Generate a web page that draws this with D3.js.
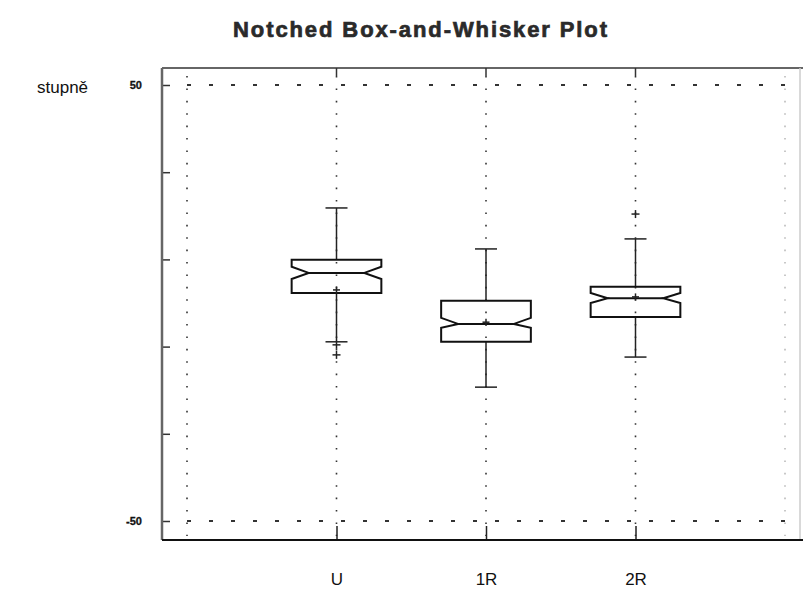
<!DOCTYPE html>
<html>
<head>
<meta charset="utf-8">
<script src="https://cdn.jsdelivr.net/npm/d3@7"></script>
<style>
  html, body { margin: 0; padding: 0; background: #fff; }
  svg { display: block; }
</style>
</head>
<body>
<svg id="chart" width="803" height="594"></svg>
<script>
// Per-group summary statistics (degrees)
const categories   = ["U", "1R", "2R"];
const upperWhisker = [21.8, 12.4, 14.7];
const q3           = [9.9, 0.5, 3.7];
const notchHigh    = [8.3, -3.4, 2.3];
const median       = [6.9, -4.8, 1.1];
const notchLow     = [5.5, -5.7, 0.0];
const q1           = [2.3, -8.9, -3.2];
const lowerWhisker = [-8.9, -19.3, -12.4];
const means        = [3.0, -4.4, 1.4];
const outliers     = [[-9.6, -11.9], [], [20.4]];

const yTicks      = [-50, -30, -10, 10, 30, 50];
const yTickLabels = [-50, 50];

const svg = d3.select("#chart");

const frame = { left: 162, top: 68, right: 803, bottom: 540 };

// x: category slots 0..4, groups occupy 1..3; dotted guides on every slot
const x = d3.scaleLinear().domain([0, 4]).range([187, 785]);
const y = d3.scaleLinear().domain([-50, 50]).range([521, 85]);
const step = x(1) - x(0);
const boxHalf = step * 0.3;
const notchHalf = boxHalf * 0.62;

const data = categories.map((c, i) => ({
  c, pos: i + 1,
  hi: upperWhisker[i], q3: q3[i], nh: notchHigh[i], med: median[i],
  nl: notchLow[i], q1: q1[i], lo: lowerWhisker[i], mean: means[i], out: outliers[i]
}));

// Title
svg.append("text")
  .attr("x", 421).attr("y", 37)
  .attr("text-anchor", "middle")
  .attr("font-family", "Liberation Sans, Arial, sans-serif")
  .attr("font-weight", "bold")
  .attr("font-size", 22)
  .attr("letter-spacing", 1.9)
  .attr("fill", "#2a2a2a")
  .attr("stroke", "#2a2a2a").attr("stroke-width", 0.7)
  .text("Notched Box-and-Whisker Plot");

// Y-axis caption
svg.append("text")
  .attr("x", 37).attr("y", 93)
  .attr("font-family", "Liberation Sans, Arial, sans-serif")
  .attr("font-size", 17)
  .attr("fill", "#111")
  .text("stupně");

// Dotted guides: horizontal at the ±50 limits, vertical at every slot
const grid = svg.append("g");
grid.selectAll("line.h").data([-50, 50]).join("line")
  .attr("x1", x(0)).attr("x2", frame.right)
  .attr("y1", d => y(d)).attr("y2", d => y(d))
  .attr("stroke", "#333").attr("stroke-width", 2)
  .attr("stroke-dasharray", "4,18");
grid.selectAll("line.v").data([0, 1, 2, 3, 4]).join("line")
  .attr("x1", d => x(d)).attr("x2", d => x(d))
  .attr("y1", frame.top + 8).attr("y2", frame.bottom - 4)
  .attr("stroke", d => d === 4 ? "#bbb" : "#333").attr("stroke-width", 1.6)
  .attr("stroke-dasharray", "1.6,10.8");

// Frame lines
svg.append("line")
  .attr("x1", frame.left).attr("x2", frame.right)
  .attr("y1", frame.top).attr("y2", frame.top)
  .attr("stroke", "#333").attr("stroke-width", 1.5);
svg.append("line")
  .attr("x1", 800).attr("x2", 800)
  .attr("y1", frame.top).attr("y2", frame.bottom)
  .attr("stroke", "#ccc").attr("stroke-width", 1.5);

// Left axis
const yAxis = d3.axisLeft(y)
  .tickValues(yTicks)
  .tickSizeInner(-8).tickSizeOuter(0)
  .tickPadding(20)
  .tickFormat(d => yTickLabels.includes(d) ? String(d) : "");
const gy = svg.append("g").attr("transform", `translate(${frame.left},0)`).call(yAxis);
gy.select(".domain").remove();
gy.selectAll(".tick line").attr("stroke", "#333").attr("stroke-width", 1.5);
gy.selectAll(".tick text")
  .attr("font-family", "Liberation Sans, Arial, sans-serif")
  .attr("font-weight", "bold").attr("font-size", 11).attr("fill", "#111")
  .attr("stroke", "#111").attr("stroke-width", 0.3);
svg.append("line")
  .attr("x1", frame.left).attr("x2", frame.left)
  .attr("y1", frame.top).attr("y2", frame.bottom)
  .attr("stroke", "#666").attr("stroke-width", 2.5);

// Bottom axis with category labels
const xAxis = d3.axisBottom(x)
  .tickValues(data.map(d => d.pos))
  .tickFormat((d, i) => categories[i])
  .tickSizeInner(-14).tickSizeOuter(0)
  .tickPadding(33);
const gx = svg.append("g").attr("transform", `translate(0,${frame.bottom})`).call(xAxis);
gx.select(".domain").remove();
gx.selectAll(".tick line").attr("stroke", "#222").attr("stroke-width", 1.5);
gx.selectAll(".tick text")
  .attr("font-family", "Liberation Sans, Arial, sans-serif")
  .attr("font-size", 17).attr("fill", "#111");
svg.append("line")
  .attr("x1", frame.left).attr("x2", frame.right)
  .attr("y1", frame.bottom).attr("y2", frame.bottom)
  .attr("stroke", "#111").attr("stroke-width", 2);

// Top ticks
svg.append("g").selectAll("line").data(data).join("line")
  .attr("x1", d => x(d.pos)).attr("x2", d => x(d.pos))
  .attr("y1", frame.top).attr("y2", frame.top + 8)
  .attr("stroke", "#333").attr("stroke-width", 1.5);

// Boxes
const boxes = svg.append("g").selectAll("g").data(data).join("g");

// whiskers
boxes.append("line")
  .attr("x1", d => x(d.pos)).attr("x2", d => x(d.pos))
  .attr("y1", d => y(d.hi)).attr("y2", d => y(d.q3))
  .attr("stroke", "#222").attr("stroke-width", 1.5);
boxes.append("line")
  .attr("x1", d => x(d.pos)).attr("x2", d => x(d.pos))
  .attr("y1", d => y(d.q1)).attr("y2", d => y(d.lo))
  .attr("stroke", "#222").attr("stroke-width", 1.5);
// whisker caps
boxes.selectAll("line.cap").data(d => [d.hi, d.lo].map(v => ({ pos: d.pos, v }))).join("line")
  .attr("x1", d => x(d.pos) - 11).attr("x2", d => x(d.pos) + 11)
  .attr("y1", d => y(d.v)).attr("y2", d => y(d.v))
  .attr("stroke", "#222").attr("stroke-width", 1.5);

// notched box outline
boxes.append("path")
  .attr("d", d => {
    const cx = x(d.pos);
    const L = cx - boxHalf, R = cx + boxHalf, nL = cx - notchHalf, nR = cx + notchHalf;
    const p = d3.path();
    p.moveTo(L, y(d.q3));
    p.lineTo(R, y(d.q3));
    p.lineTo(R, y(d.nh));
    p.lineTo(nR, y(d.med));
    p.lineTo(R, y(d.nl));
    p.lineTo(R, y(d.q1));
    p.lineTo(L, y(d.q1));
    p.lineTo(L, y(d.nl));
    p.lineTo(nL, y(d.med));
    p.lineTo(L, y(d.nh));
    p.closePath();
    return p.toString();
  })
  .attr("fill", "none").attr("stroke", "#111").attr("stroke-width", 2);

// median
boxes.append("line")
  .attr("x1", d => x(d.pos) - notchHalf).attr("x2", d => x(d.pos) + notchHalf)
  .attr("y1", d => y(d.med)).attr("y2", d => y(d.med))
  .attr("stroke", "#111").attr("stroke-width", 2);

// mean and outlier markers
const plus = (g, cx, cy, s) => {
  g.append("line").attr("x1", cx - s).attr("x2", cx + s).attr("y1", cy).attr("y2", cy);
  g.append("line").attr("x1", cx).attr("x2", cx).attr("y1", cy - s).attr("y2", cy + s);
};
boxes.each(function (d) {
  const g = d3.select(this).append("g").attr("stroke", "#222").attr("stroke-width", 1.5);
  plus(g, x(d.pos), y(d.mean), 3.5);
  d.out.forEach(v => plus(g, x(d.pos), y(v), 4));
});
</script>
</body>
</html>
